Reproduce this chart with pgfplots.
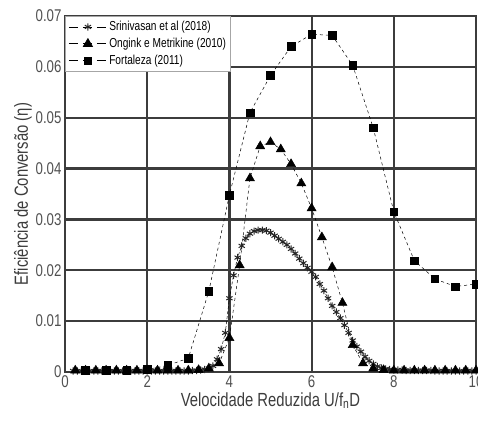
\documentclass[border=0pt]{standalone}
\usepackage{pgfplots}
\pgfplotsset{compat=1.18}
\usepackage{fontspec}
\setmainfont[FakeStretch=0.78]{Liberation Sans}

\definecolor{gridc}{HTML}{3C3C3C}

\begin{document}
\begin{tikzpicture}[x=1pt,y=1pt]
\begin{axis}[
    name=ax,
    scale only axis,
    width=411pt, height=356pt,
    xmin=0, xmax=10, ymin=0, ymax=0.07,
    xtick={0,2,4,6,8,10},
    ytick={0,0.01,0.02,0.03,0.04,0.05,0.06,0.07},
    scaled y ticks=false,
    yticklabel style={/pgf/number format/fixed,/pgf/number format/precision=2},
    /pgf/number format/assume math mode=true,
    tick label style={font=\fontsize{17}{19}\selectfont, text=gridc!90},
    label style={font=\fontsize{19}{21}\selectfont, text=gridc},
    xlabel={Velocidade Reduzida U/f\textsubscript{n}D},
    ylabel={Eficiência de Conversão (η)},
    xlabel style={yshift=2pt},
    ylabel style={yshift=-3pt},
    major tick length=0pt,
    grid=major,
    major grid style={line width=2.2pt, gridc},
    axis line style={line width=2.2pt, gridc},
    clip=false,
    legend cell align=left,
    legend style={at={(0,1)}, anchor=north west, draw=gray!70, line width=1pt,
        font=\fontsize{13}{15}\selectfont, fill=white, row sep=2pt,
        inner sep=3pt},
    legend image code/.code={%
        \draw[mark repeat=2,mark phase=2,#1] plot coordinates {(0pt,0pt) (19pt,0pt) (38pt,0pt)};},
    legend image post style={line width=0.8pt, dash pattern=on 9pt off 5pt},
]
% Srinivasan et al (2018)
\addplot[black, densely dashed, line width=0.5pt, mark=asterisk, mark size=3.6pt,
    mark options={solid, black!85, line width=1pt}] coordinates {
(0.2,0.0002) (0.3,0.0002) (0.4,0.0002) (0.5,0.0002) (0.6,0.0002) (0.7,0.0002)
(0.8,0.0002) (0.9,0.0002) (1.0,0.0002) (1.1,0.0002) (1.2,0.0002) (1.3,0.0002)
(1.4,0.0002) (1.5,0.0002) (1.6,0.0002) (1.7,0.0002) (1.8,0.0002) (1.9,0.0002)
(2.0,0.0002) (2.1,0.0002) (2.2,0.0002) (2.3,0.0002) (2.4,0.0002) (2.5,0.0002)
(2.6,0.0002) (2.7,0.0002) (2.8,0.0002) (2.9,0.0002) (3.0,0.0002) (3.1,0.0003)
(3.2,0.0003) (3.3,0.0004) (3.4,0.0005) (3.5,0.0007) (3.6,0.0012) (3.7,0.0025)
(3.8,0.0045) (3.9,0.0077) (4.0,0.0145) (4.1,0.0190) (4.2,0.0225) (4.3,0.0248)
(4.4,0.0263) (4.5,0.0272) (4.6,0.0277) (4.7,0.0279) (4.8,0.0279) (4.9,0.0278)
(5.0,0.0274) (5.1,0.0268) (5.2,0.0262) (5.3,0.0256) (5.4,0.0250) (5.5,0.0242)
(5.6,0.0233) (5.7,0.0223) (5.8,0.0214) (5.9,0.0205) (6.0,0.0197) (6.1,0.0187)
(6.2,0.0173) (6.3,0.0160) (6.4,0.0145) (6.5,0.0130) (6.6,0.0118) (6.7,0.0106)
(6.8,0.0092) (6.9,0.0077) (7.0,0.0062) (7.1,0.0050) (7.2,0.0040) (7.3,0.0030)
(7.4,0.0022) (7.5,0.0016) (7.6,0.0011) (7.7,0.0008) (7.8,0.0006) (7.9,0.0005)
(8.0,0.0004) (8.1,0.0004) (8.2,0.0004) (8.3,0.0003) (8.4,0.0003) (8.5,0.0003)
(8.6,0.0003) (8.7,0.0003) (8.8,0.0003) (8.9,0.0003) (9.0,0.0002) (9.1,0.0002)
(9.2,0.0002) (9.3,0.0002) (9.4,0.0002) (9.5,0.0002) (9.6,0.0002) (9.7,0.0002)
(9.8,0.0002) (9.9,0.0002) (10.0,0.0002)
};
\addlegendentry{Srinivasan et al (2018)}
% Ongink e Metrikine (2010)
\addplot[black, dashed, line width=0.5pt, mark=triangle*, mark size=5.2pt,
    mark options={solid}] coordinates {
(0.25,0.0003) (0.5,0.0003) (0.75,0.0003) (1.0,0.0003) (1.25,0.0003) (1.5,0.0003)
(1.75,0.0003) (2.0,0.0003) (2.25,0.0003) (2.5,0.0003) (2.75,0.0003) (3.0,0.0003)
(3.25,0.0004) (3.5,0.0007) (3.75,0.0017) (4.0,0.0067) (4.25,0.0210) (4.5,0.0381)
(4.75,0.0444) (5.0,0.0452) (5.25,0.0438) (5.5,0.0409) (5.75,0.0371) (6.0,0.0322)
(6.25,0.0265) (6.5,0.0206) (6.75,0.0136) (7.0,0.0053) (7.25,0.0017) (7.5,0.0007)
(7.75,0.0004) (8.0,0.0003) (8.25,0.0003) (8.5,0.0003) (8.75,0.0003) (9.0,0.0003)
(9.25,0.0003) (9.5,0.0003) (9.75,0.0003) (10.0,0.0003)
};
\addlegendentry{Ongink e Metrikine (2010)}
% Fortaleza (2011)
\addplot[black, dashed, line width=0.5pt, mark=square*, mark size=3.8pt,
    mark options={solid}] coordinates {
(0.5,0.0003) (1.0,0.0003) (1.5,0.0004) (2.0,0.0005) (2.5,0.0013) (3.0,0.0027)
(3.5,0.0159) (4.0,0.0348) (4.5,0.0510) (5.0,0.0583) (5.5,0.0640) (6.0,0.0664)
(6.5,0.0662) (7.0,0.0603) (7.5,0.0480) (8.0,0.0315) (8.5,0.0219) (9.0,0.0183)
(9.5,0.0168) (10.0,0.0173)
};
\addlegendentry{Fortaleza (2011)}
\end{axis}
\pgfresetboundingbox
\path[use as bounding box] ([xshift=-65pt,yshift=-60pt]ax.south west)
    rectangle ([xshift=2pt,yshift=16pt]ax.north east);
\end{tikzpicture}
\end{document}
